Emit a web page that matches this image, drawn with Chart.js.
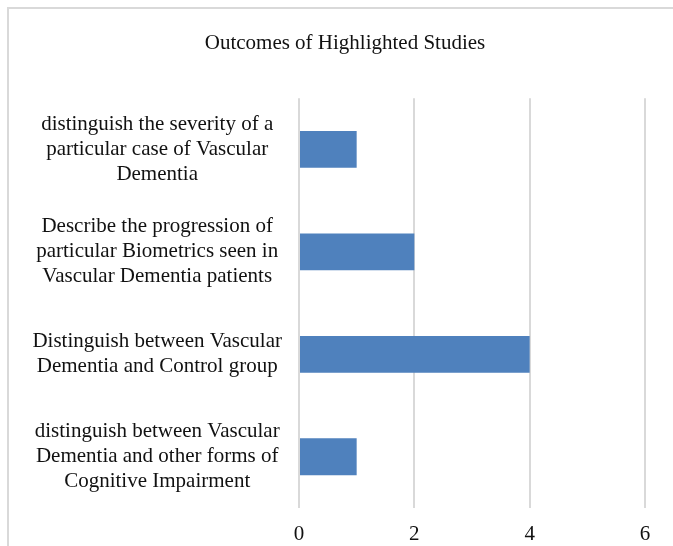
<!DOCTYPE html>
<html>
<head>
<meta charset="utf-8">
<script src="https://cdn.jsdelivr.net/npm/chart.js@4"></script>
<style>
  html, body { margin: 0; padding: 0; background: #fff; }
  #wrap { position: relative; width: 673px; height: 546px; overflow: hidden; }
  #frame { position: absolute; left: 7px; top: 7px; width: 700px; height: 600px; border: 2px solid #d9d9d9; box-sizing: border-box; }
  #chart { position: absolute; left: 0; top: 0; }
</style>
</head>
<body>
<div id="wrap">
  <div id="frame"></div>
  <canvas id="chart" width="673" height="546"></canvas>
</div>
<script>
// Outcome categories, top to bottom as drawn
const categories = [
  ["distinguish the severity of a", "particular case of Vascular", "Dementia"],
  ["Describe the progression of", "particular Biometrics seen in", "Vascular Dementia patients"],
  ["Distinguish between Vascular", "Dementia and Control group"],
  ["distinguish between Vascular", "Dementia and other forms of", "Cognitive Impairment"],
];
const studyCounts = [1, 2, 4, 1];
const xMin = 0;
const xMax = 6;
const xStep = 2;

const serif = "'Liberation Serif', 'Times New Roman', serif";
const textColor = "#111";
const gridColor = "#d9d9d9";
const barColor = "#4f81bd";

// The title in the reference is centred on the whole frame, not on the plot
const titleLeft = 45;
const shiftTitle = {
  id: "shiftTitle",
  afterLayout(chart) {
    if (chart.titleBlock) chart.titleBlock.left = titleLeft;
  },
};

new Chart(document.getElementById("chart").getContext("2d"), {
  type: "bar",
  data: {
    labels: categories,
    datasets: [
      {
        data: studyCounts,
        backgroundColor: barColor,
        borderWidth: 0,
        categoryPercentage: 0.36,
        barPercentage: 1,
      },
    ],
  },
  options: {
    indexAxis: "y",
    responsive: false,
    animation: false,
    layout: {
      padding: { left: 0, right: 28, top: 0, bottom: 1 },
    },
    scales: {
      x: {
        min: xMin,
        max: xMax,
        afterFit: (scale) => {
          scale.height = 37;
        },
        ticks: {
          stepSize: xStep,
          padding: 14,
          color: textColor,
          font: { family: serif, size: 21 },
        },
        grid: { color: gridColor, lineWidth: 2, drawTicks: false },
        border: { display: false },
      },
      y: {
        afterFit: (scale) => {
          // value axis starts at x=299, and the tall labels must not eat plot height
          scale.width = 299;
          scale.paddingTop = 0;
          scale.paddingBottom = 0;
        },
        ticks: {
          crossAlign: "center",
          padding: 17,
          color: textColor,
          font: { family: serif, size: 21, lineHeight: 25 / 21 },
        },
        grid: { display: false, drawTicks: false },
        border: { display: false },
      },
    },
    plugins: {
      legend: { display: false },
      tooltip: { enabled: false },
      title: {
        display: true,
        text: "Outcomes of Highlighted Studies",
        color: textColor,
        font: { family: serif, size: 21, weight: "normal" },
        padding: { top: 31, bottom: 42 },
      },
    },
  },
  plugins: [shiftTitle],
});
</script>
</body>
</html>
